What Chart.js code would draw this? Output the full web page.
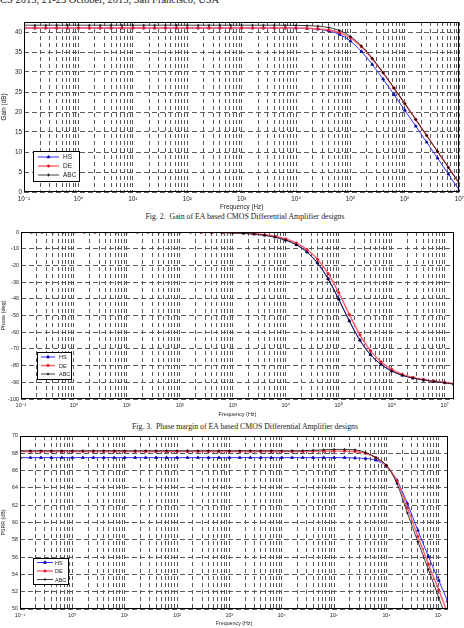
<!DOCTYPE html>
<html>
<head>
<meta charset="utf-8">
<script src="https://cdn.jsdelivr.net/npm/chart.js@4.4.1/dist/chart.umd.min.js"></script>
<style>
  html, body { margin: 0; padding: 0; background: #fff; }
  body { width: 464px; height: 628px; position: relative; overflow: hidden; font-family: 'Liberation Serif', 'Times New Roman', serif; color: #222; }
  .hdr { position: absolute; left: 0; top: -6px; font-size: 10.5px; line-height: 11px; white-space: nowrap; }
  .plot { position: absolute; left: 0; width: 464px; height: 198px; }
  .cap { position: absolute; left: 0; width: 490px; text-align: center; font-size: 7.8px; line-height: 8px; white-space: pre; }
</style>
</head>
<body>
<div class="hdr">CS 2015, 21-23 October, 2015, San Francisco, USA</div>
<div class="plot" style="top:14px"><canvas id="gain" width="464" height="198"></canvas></div>
<div class="cap" style="top:213px">Fig. 2.  Gain of EA based CMOS Differential Amplifier designs</div>
<div class="plot" style="top:222px"><canvas id="phase" width="464" height="198"></canvas></div>
<div class="cap" style="top:423px">Fig. 3.  Phase margin of EA based CMOS Differential Amplifier designs</div>
<div class="plot" style="top:430px"><canvas id="psrr" width="464" height="198"></canvas></div>
<script>
// log10 of frequency (Hz) for every sample
const GAIN_LOGF = [-1, -0.8, -0.6, -0.4, -0.2, 0, 0.2, 0.4, 0.6, 0.8, 1, 1.2, 1.4, 1.6, 1.8, 2, 2.2, 2.4, 2.6, 2.8,
  3, 3.2, 3.4, 3.6, 3.8, 4, 4.2, 4.4, 4.6, 4.8, 5, 5.2, 5.4, 5.6, 5.8, 6, 6.2, 6.4, 6.6, 6.8, 7];
const WIDE_LOGF = [-1, -0.8, -0.6, -0.4, -0.2, 0, 0.2, 0.4, 0.6, 0.8, 1, 1.2, 1.4, 1.6, 1.8, 2, 2.2, 2.4, 2.6, 2.8,
  3, 3.2, 3.4, 3.6, 3.8, 4, 4.2, 4.4, 4.6, 4.8, 5, 5.2, 5.4, 5.6, 5.8, 6, 6.2, 6.4, 6.6, 6.8, 7, 7.17];

// Fig. 2 gain (dB)
const GAIN_HS = [41, 41, 41, 41, 41, 41, 41, 41, 41, 41, 41, 41, 41, 41, 41, 41, 41, 41, 41, 41,
  41, 41, 41, 41, 41, 40.95, 40.88, 40.7, 40.28, 39.38, 37.71, 35.15, 31.89, 28.22, 24.36, 20.42, 16.45, 12.46, 8.46, 4.46, 0.46];
const GAIN_DE = [41, 41, 41, 41, 41, 41, 41, 41, 41, 41, 41, 41, 41, 41, 41, 41, 41, 41, 41, 41,
  41, 41, 41, 41, 41, 40.97, 40.92, 40.79, 40.5, 39.84, 38.52, 36.33, 33.33, 29.8, 26, 22.08, 18.12, 14.13, 10.14, 6.14, 2.14];
const GAIN_ABC = [41.7, 41.7, 41.7, 41.7, 41.7, 41.7, 41.7, 41.7, 41.7, 41.7, 41.7, 41.7, 41.7, 41.7, 41.7, 41.7, 41.7, 41.7, 41.7, 41.7,
  41.7, 41.7, 41.7, 41.7, 41.68, 41.66, 41.6, 41.46, 41.12, 40.36, 38.89, 36.54, 33.42, 29.83, 26, 22.07, 18.1, 14.11, 10.12, 6.12, 2.12];

// Fig. 3 phase (deg)
const PHASE_HS = [0, 0, 0, 0, 0, 0, 0, 0, 0, 0, 0, 0, 0, 0, 0, 0, 0, -0.1, -0.2, -0.3,
  -0.48, -0.76, -1.21, -1.92, -3.04, -4.81, -7.59, -11.93, -18.52, -27.96, -40.08, -53.13, -64.68, -73.38, -79.33, -83.22, -85.8, -87.5, -88.6, -89.5, -90.3, -91];
const PHASE_DE = [0, 0, 0, 0, 0, 0, 0, 0, 0, 0, 0, 0, 0, 0, 0, 0, 0, -0.1, -0.2, -0.27,
  -0.42, -0.67, -1.06, -1.68, -2.66, -4.21, -6.65, -10.47, -16.33, -24.9, -36.34, -49.39, -61.58, -71.15, -77.84, -82.26, -85.2, -87.1, -88.3, -89.3, -90.1, -90.8];
const PHASE_ABC = [0, 0, 0, 0, 0, 0, 0, 0, 0, 0, 0, 0, 0, 0, 0, 0, 0, -0.1, -0.2, -0.3,
  -0.5, -0.78, -1.24, -1.96, -3.1, -4.9, -7.7, -12.1, -18.8, -28.3, -40.5, -53.5, -65, -73.6, -79.4, -83.3, -85.8, -87.5, -88.6, -89.5, -90.3, -91];

// PSRR (dB)
const PSRR_HS = [67.5, 67.5, 67.5, 67.5, 67.5, 67.5, 67.5, 67.5, 67.5, 67.5, 67.5, 67.5, 67.5, 67.5, 67.5, 67.5, 67.5, 67.5, 67.5, 67.5,
  67.5, 67.5, 67.5, 67.5, 67.5, 67.5, 67.5, 67.5, 67.5, 67.5, 67.5, 67.5, 67.45, 67.4, 67.2, 66.5, 64.9, 62.2, 59.1, 56.1, 53.3, 50.9];
const PSRR_DE = [68.2, 68.2, 68.2, 68.2, 68.2, 68.2, 68.2, 68.2, 68.2, 68.2, 68.2, 68.2, 68.2, 68.2, 68.2, 68.2, 68.2, 68.2, 68.2, 68.2,
  68.2, 68.2, 68.2, 68.2, 68.2, 68.2, 68.2, 68.2, 68.22, 68.25, 68.25, 68.25, 68.2, 68, 67.5, 66.6, 64.8, 61.7, 58.4, 55.2, 52.2, 49.5];
const PSRR_ABC = [68.3, 68.3, 68.3, 68.3, 68.3, 68.3, 68.3, 68.3, 68.3, 68.3, 68.3, 68.3, 68.3, 68.3, 68.3, 68.3, 68.3, 68.3, 68.3, 68.3,
  68.3, 68.3, 68.3, 68.3, 68.3, 68.3, 68.3, 68.3, 68.35, 68.4, 68.45, 68.45, 68.4, 68.1, 67.5, 66.6, 64.5, 61.1, 57.8, 54.6, 51.3, 48.5];

// axis ticks
const DECADES = [-1, 0, 1, 2, 3, 4, 5, 6, 7];
const MINOR = [1, 2, 3, 4, 5, 6, 7, 8, 9];
const GAIN_TICKS = [0, 5, 10, 15, 20, 25, 30, 35, 40];
const PHASE_TICKS = [-100, -90, -80, -70, -60, -50, -40, -30, -20, -10, 0];
const PSRR_TICKS = [50, 52, 54, 56, 58, 60, 62, 64, 66, 68, 70];

const FONT = "'Liberation Sans', 'DejaVu Sans', sans-serif";
const GRID = '#5a5a5a';
const SUP = { '-': '\u207B', '0': '\u2070', '1': '\u00B9', '2': '\u00B2', '3': '\u00B3', '4': '\u2074', '5': '\u2075', '6': '\u2076', '7': '\u2077' };

const STYLE = {
  HS:  { color: '#3030ff', point: 'triangle', pointColor: '#0000a0', width: 1,   radius: 1.7, order: 2 },
  DE:  { color: '#ff5e6c', point: 'circle',   pointColor: '#e01c2c', width: 1.4, radius: 1.2, order: 1 },
  ABC: { color: '#111111', point: 'cross',    pointColor: '#000000', width: 0.8, radius: 1.4, order: 0 }
};

function logTicks(max) {
  const t = [];
  DECADES.forEach(e => MINOR.forEach(m => {
    const v = m * Math.pow(10, e);
    if (v <= max * 1.0001) t.push(v);
  }));
  return t;
}

function decadeLabel(v) {
  const e = Math.log10(v);
  if (Math.abs(e - Math.round(e)) > 1e-6) return '';
  return '10' + String(Math.round(e)).split('').map(c => SUP[c]).join('');
}

const frame = {
  id: 'frame',
  afterDraw(chart) {
    const { ctx, chartArea: a } = chart;
    ctx.save();
    ctx.strokeStyle = '#000';
    ctx.lineWidth = 1;
    ctx.strokeRect(Math.round(a.left) + 0.5, Math.round(a.top) + 0.5,
      Math.round(a.right - a.left) - 1, Math.round(a.bottom - a.top) - 1);
    ctx.restore();
  }
};

const boxLegend = {
  id: 'boxLegend',
  afterDraw(chart, args, o) {
    const ctx = chart.ctx;
    ctx.save();
    ctx.fillStyle = '#fff';
    ctx.fillRect(o.x, o.y, o.w, o.h);
    ctx.strokeStyle = '#000';
    ctx.lineWidth = 1;
    ctx.strokeRect(o.x + 0.5, o.y + 0.5, o.w, o.h);
    ctx.font = o.size + 'px ' + FONT;
    ctx.textBaseline = 'middle';
    chart.data.datasets.forEach((ds, i) => {
      const y = o.y + o.top + i * o.row;
      ctx.strokeStyle = ds.borderColor;
      ctx.lineWidth = ds.borderWidth;
      ctx.beginPath();
      ctx.moveTo(o.x + o.l0, y);
      ctx.lineTo(o.x + o.l1, y);
      ctx.stroke();
      ctx.fillStyle = ds.pointBackgroundColor;
      ctx.strokeStyle = ds.pointBorderColor;
      ctx.lineWidth = 0.7;
      Chart.helpers.drawPoint(ctx, { pointStyle: ds.pointStyle, radius: ds.pointRadius, rotation: 0, borderWidth: 0.7 },
        o.x + (o.l0 + o.l1) / 2, y);
      ctx.fillStyle = '#222';
      ctx.fillText(ds.label, o.x + o.tx, y + 0.5);
    });
    ctx.restore();
  }
};

function makeChart(id, o) {
  const datasets = ['HS', 'DE', 'ABC'].map(name => {
    const s = STYLE[name];
    return {
      label: name,
      data: o.series[name].map((y, i) => ({ x: Math.pow(10, o.logf[i]), y })),
      borderColor: s.color,
      borderWidth: s.width,
      pointStyle: s.point,
      pointRadius: s.radius,
      pointBackgroundColor: s.pointColor,
      pointBorderColor: s.pointColor,
      pointBorderWidth: 0.7,
      cubicInterpolationMode: 'monotone',
      order: s.order,
      fill: false
    };
  });

  return new Chart(document.getElementById(id), {
    type: 'line',
    data: { datasets },
    options: {
      responsive: false,
      animation: false,
      events: [],
      layout: { padding: o.pad },
      plugins: {
        legend: { display: false },
        tooltip: { enabled: false },
        boxLegend: o.legend
      },
      scales: {
        x: {
          type: 'logarithmic',
          min: 0.1,
          max: o.xmax,
          afterBuildTicks: s => { s.ticks = logTicks(o.xmax).map(v => ({ value: v })); },
          afterFit: s => { s.height = o.xh; s.paddingLeft = 0; s.paddingRight = 0; },
          ticks: {
            autoSkip: false, maxRotation: 0, minRotation: 0, padding: o.xpad,
            font: { family: FONT, size: o.tick }, color: '#222',
            callback: v => decadeLabel(v)
          },
          grid: { color: GRID, lineWidth: 1, drawTicks: false },
          border: { display: false, dash: [4, 3] },
          title: {
            display: true, text: 'Frequency (Hz)', color: '#222',
            font: { family: FONT, size: o.title }, padding: { top: 0, bottom: o.tpad }
          }
        },
        y: {
          min: o.ymin,
          max: o.ymax,
          afterBuildTicks: s => { s.ticks = o.yticks.map(v => ({ value: v })); },
          afterFit: s => { s.width = o.yw; s.paddingTop = 0; s.paddingBottom = 0; },
          ticks: {
            padding: 2, font: { family: FONT, size: o.tick }, color: '#222',
            callback: v => String(v)
          },
          grid: { color: GRID, lineWidth: 1, drawTicks: false },
          border: { display: false, dash: [5, 3] },
          title: {
            display: true, text: o.ytitle, color: '#222',
            font: { family: FONT, size: o.title }, padding: { top: 0, bottom: 0 }
          }
        }
      }
    },
    plugins: [frame, boxLegend]
  });
}

makeChart('gain', {
  logf: GAIN_LOGF,
  series: { HS: GAIN_HS, DE: GAIN_DE, ABC: GAIN_ABC },
  xmax: 1e7, ymin: 0, ymax: 42.5, yticks: GAIN_TICKS, ytitle: 'Gain (dB)',
  pad: { top: 8, right: 3, left: 0, bottom: 0 }, xh: 20, yw: 24, xpad: 3, tpad: 1,
  tick: 6.3, title: 6.3,
  legend: { x: 33, y: 137, w: 46, h: 30, top: 6, row: 9, l0: 5, l1: 26, tx: 30, size: 6.5 }
});

makeChart('phase', {
  logf: WIDE_LOGF,
  series: { HS: PHASE_HS, DE: PHASE_DE, ABC: PHASE_ABC },
  xmax: 1.5e7, ymin: -100, ymax: 0, yticks: PHASE_TICKS, ytitle: 'Phase (deg)',
  pad: { top: 10, right: 10, left: 0, bottom: 0 }, xh: 21, yw: 21, xpad: 3, tpad: 2,
  tick: 5.5, title: 5.5,
  legend: { x: 37, y: 130, w: 34, h: 27, top: 5, row: 8.5, l0: 4, l1: 18, tx: 22, size: 5.5 }
});

makeChart('psrr', {
  logf: WIDE_LOGF,
  series: { HS: PSRR_HS, DE: PSRR_DE, ABC: PSRR_ABC },
  xmax: 1.5e7, ymin: 50, ymax: 70, yticks: PSRR_TICKS, ytitle: 'PSRR (dB)',
  pad: { top: 6, right: 16, left: 0, bottom: 0 }, xh: 19, yw: 20, xpad: 3, tpad: 1,
  tick: 5.3, title: 5.3,
  legend: { x: 33, y: 128, w: 35, h: 26, top: 4.5, row: 8.5, l0: 4, l1: 20, tx: 22, size: 5.5 }
});
</script>
</body>
</html>
